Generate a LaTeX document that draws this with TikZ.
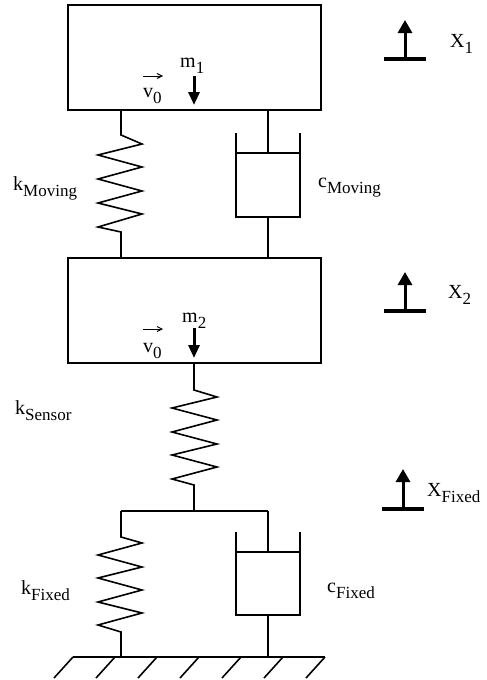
\documentclass[tikz,border=0pt]{standalone}
\usepackage{fontspec}
\setmainfont{Liberation Serif}
\usetikzlibrary{arrows.meta}
\tikzset{
  mass/.style={draw, line width=1.6pt, inner sep=0pt, outer sep=0pt, minimum width=253pt, minimum height=105pt},
  wire/.style={line width=1.6pt, line join=miter, line cap=butt},
  forcearrow/.style={line width=3pt, -{Triangle[width=11pt,length=13pt]}},
  disparrow/.style={line width=3pt, -{Triangle[width=14pt,length=13pt]}},
  dispbase/.style={line width=3.2pt},
  vecarrow/.style={line width=1pt, -{Straight Barb[width=5pt,length=5pt]}},
  lab/.style={font=\fontsize{20}{20}\selectfont, inner sep=0pt, anchor=base west},
  hatch/.style={line width=1.6pt}
}
\newcommand\sublab[2]{#1\raisebox{-6pt}{\fontsize{17}{17}\selectfont #2}}
\begin{document}
\begin{tikzpicture}[x=1pt,y=-1pt]
\useasboundingbox (0,0) rectangle (487,680);
% masses
\node[mass] (m1box) at (194.5,57.5) {};
\node[mass] (m2box) at (194.5,310.5) {};
% --- moving spring (x=121)
\coordinate (ms1) at (121,110);
\coordinate (ms2) at (121,258);
\draw[wire] (ms1) -- (121,135) -- (142,144) -- (98,155) -- (142,167) -- (98,179)
  -- (142,191) -- (98,203) -- (142,214) -- (98,227) -- (121,232) -- (ms2);
% --- moving damper (x=268)
\coordinate (md1) at (268,110);
\coordinate (md2) at (268,258);
\draw[wire] (md1) -- (268,153);
\draw[wire] (236,153) -- (300,153);
\draw[wire] (236,133) -- (236,217) -- (300,217) -- (300,133);
\draw[wire] (268,217) -- (md2);
% --- sensor spring (x=194)
\coordinate (ss1) at (194,363);
\coordinate (ss2) at (194,511);
\draw[wire] (ss1) -- (194,390) -- (217,397) -- (172,408) -- (217,420) -- (172,432)
  -- (217,444) -- (172,455) -- (217,467) -- (172,479) -- (194,485) -- (ss2);
% bar
\coordinate (barL) at (121,511);
\coordinate (barR) at (268,511);
\draw[wire] (barL) -- (barR);
% --- fixed spring (x=121)
\coordinate (fs2) at (121,657);
\draw[wire] (barL) -- (121,537) -- (142,543) -- (98,555) -- (142,567) -- (98,578)
  -- (142,590) -- (98,602) -- (142,613) -- (98,625) -- (121,632) -- (fs2);
% --- fixed damper (x=268)
\coordinate (fd2) at (268,657);
\draw[wire] (barR) -- (268,552);
\draw[wire] (236,552) -- (300,552);
\draw[wire] (236,532) -- (236,615) -- (300,615) -- (300,532);
\draw[wire] (268,615) -- (fd2);
% --- ground
\coordinate (gL) at (73,657);
\coordinate (gR) at (325,657);
\draw[wire] (gL) -- (gR);
\foreach \i in {0,...,6}{
  \draw[hatch] ({73+42*\i},657) -- ({54+42*\i},678);
}
% --- mass labels and arrows
\node[lab] (m1lab) at (180,67) {\sublab{m}{1}};
\draw[forcearrow] (194,76) -- (194,105);
\node[lab] (v1lab) at (143,97) {\sublab{v}{0}};
\draw[vecarrow] (143,76) -- (163,76);
\node[lab] (m2lab) at (182,322) {\sublab{m}{2}};
\draw[forcearrow] (194,328) -- (194,358);
\node[lab] (v2lab) at (143,352) {\sublab{v}{0}};
\draw[vecarrow] (143,329) -- (163,329);
% --- spring/damper labels
\node[lab] (kmov) at (13,190) {\sublab{k}{Moving}};
\node[lab] (cmov) at (318,187) {\sublab{c}{Moving}};
\node[lab] (ksen) at (15,414) {\sublab{k}{Sensor}};
\node[lab] (kfix) at (21,594) {\sublab{k}{Fixed}};
\node[lab] (cfix) at (327,592) {\sublab{c}{Fixed}};
% --- displacement indicators
\coordinate (x1b) at (405,59);
\draw[dispbase] (384,59) -- (426,59);
\draw[disparrow] (x1b) -- (405,20);
\node[lab] (x1lab) at (450,47) {\sublab{X}{1}};
\coordinate (x2b) at (405,311);
\draw[dispbase] (384,311) -- (426,311);
\draw[disparrow] (x2b) -- (405,272);
\node[lab] (x2lab) at (448,298) {\sublab{X}{2}};
\coordinate (x3b) at (403,509);
\draw[dispbase] (382,509) -- (424,509);
\draw[disparrow] (x3b) -- (403,469);
\node[lab] (x3lab) at (427,496) {\sublab{X}{Fixed}};
\end{tikzpicture}
\end{document}
